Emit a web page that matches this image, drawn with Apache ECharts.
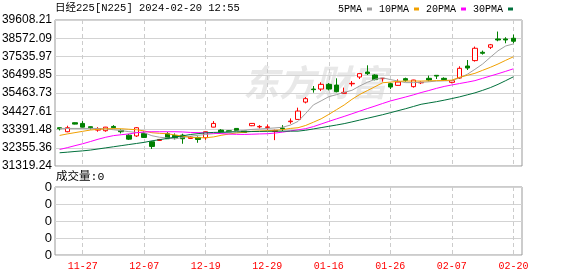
<!DOCTYPE html>
<html><head><meta charset="utf-8">
<script src="https://cdn.jsdelivr.net/npm/echarts@6/dist/echarts.min.js"></script>
<style>html,body{margin:0;padding:0;background:#fff}#c{width:578px;height:276px}</style>
</head><body><div id="c"></div>
<script>
const dates=['11-21','11-22','11-24','11-27','11-28','11-29','11-30','12-01','12-04','12-05','12-06','12-07','12-08','12-11','12-12','12-13','12-14','12-15','12-18','12-19','12-20','12-21','12-22','12-25','12-26','12-27','12-28','12-29','01-04','01-05','01-09','01-10','01-11','01-12','01-15','01-16','01-17','01-18','01-19','01-22','01-23','01-24','01-25','01-26','01-29','01-30','01-31','02-01','02-02','02-05','02-06','02-07','02-08','02-09','02-13','02-14','02-15','02-16','02-19','02-20'];
const open=[33492,33265,33777,33737,33549,33356,33322,33566,33339,33071,33026,33168,32696,32770,33151,33054,33071,32884,32941,32924,33526,33356,33322,33452,33310,33606,33538,33509,33282,33470,33834,33964,34948,35688,35688,35955,35915,35443,35984,36370,36655,36484,36279,35995,35898,36279,35824,36041,36297,36467,36297,36069,36313,36996,37303,37775,38060,38532,38532,38572];
const close=[33435,33492,33697,33526,33492,33435,33526,33492,33265,32844,33492,32941,32429,32827,32867,32924,32867,32969,32827,33265,33737,33242,33265,33339,33225,33737,33566,33538,33339,33435,33868,34437,35142,35654,35955,35688,35540,35500,36012,36564,36564,36223,36297,35802,36086,36183,36200,36069,36200,36427,36223,36166,36865,36882,38003,37719,38202,38475,38475,38401];
const low=[33339,33236,33680,33515,33396,33265,33265,33464,33168,32798,32969,32912,32286,32742,32855,32827,32582,32855,32639,32810,33515,33208,33242,33322,33196,33583,33452,33379,32787,33299,33720,33947,34875,35483,35574,35614,35500,35426,35841,36257,36484,36183,36109,35688,35881,36109,35768,35972,36126,36257,36166,36012,36257,36769,37246,37645,37963,38401,38287,38287];
const high=[33509,33606,33794,33868,33566,33526,33538,33640,33396,33140,33526,33282,32742,32855,33242,33168,33151,33026,32997,33282,33868,33413,33339,33470,33339,33754,33640,33680,33379,33640,34021,34630,35233,35859,36069,36029,36297,35768,36143,36581,37036,36524,36308,36052,36240,36336,36211,36126,36450,36467,36353,36200,36979,37337,38100,37872,38248,38953,38629,38782];
const ma5=[33452,33452,33452,33452,33452,33452,33424,33379,33327,33270,33225,33208,33037,32952,32912,32855,32946,33009,33060,33111,33151,33196,33253,33299,33339,33396,33418,33452,33481,33521,33640,33851,34306,34789,35017,35256,35369,35500,35614,35859,36069,36240,36325,36228,36143,36052,36052,36069,36098,36143,36155,36166,36325,36524,36808,37110,37491,37861,38134,38248];
const ma10=[33054,33140,33214,33287,33361,33401,33430,33441,33435,33407,33379,33310,33208,33174,33151,33083,33014,32941,32924,32924,32969,33060,33134,33196,33236,33287,33305,33327,33344,33384,33452,33492,33623,33805,33998,34249,34516,34783,35102,35375,35597,35819,36046,36080,36126,36143,36143,36143,36155,36166,36172,36194,36353,36467,36581,36752,36922,37110,37320,37519];
const ma20=[32258,32360,32474,32582,32707,32838,32952,33043,33094,33140,33208,33253,33265,33265,33265,33265,33253,33225,33214,33202,33180,33157,33134,33117,33111,33123,33140,33151,33191,33242,33310,33373,33441,33555,33703,33851,33993,34135,34283,34431,34579,34721,34869,35011,35125,35239,35358,35489,35603,35728,35836,35921,36001,36080,36166,36297,36427,36558,36695,36837];
const ma30=[32070,32104,32144,32178,32224,32286,32349,32412,32474,32537,32599,32662,32747,32815,32884,32958,33032,33106,33157,33202,33225,33236,33248,33259,33265,33276,33282,33287,33293,33299,33299,33299,33350,33424,33498,33572,33646,33725,33822,33925,34027,34129,34232,34345,34459,34573,34698,34823,34897,34971,35056,35148,35244,35358,35472,35614,35768,35955,36166,36382];
const yTickLabels=['31319.24','32355.36','33391.48','34427.61','35463.73','36499.85','37535.97','38572.09','39608.21'];
const volTickLabels=['0','0','0','0','0'];
const yMin=31319.24, yMax=39608.21;

const chart=echarts.init(document.getElementById('c'),null,{renderer:'canvas'});
const showIdx=(i)=>(i-3)%8===0;
const mono='"Liberation Mono","Noto Sans CJK SC",monospace';
const dashed={show:true,interval:showIdx,lineStyle:{color:'#cccccc',type:[4,3],width:1}};
function maSeries(name,data,color){
  return {type:'line',name:name,xAxisIndex:1,yAxisIndex:1,data:data,showSymbol:false,symbol:'none',
    lineStyle:{color:color,width:1},itemStyle:{color:color},z:3,silent:true};
}
const option={
  animation:false,
  backgroundColor:'#ffffff',
  textStyle:{fontFamily:'Liberation Sans'},
  title:[
    {text:'日经225[N225] 2024-02-20 12:55',left:55,top:3,padding:0,
     textStyle:{fontSize:10.5,fontWeight:'normal',color:'#000',fontFamily:mono}},
    {text:'成交量:0',left:56,top:171,padding:0,
     textStyle:{fontSize:11.5,fontWeight:'normal',color:'#000',fontFamily:mono}}
  ],
  legend:{left:338,top:4,padding:0,align:'right',itemWidth:5,itemHeight:3,itemGap:7,icon:'rect',
    selectedMode:false,data:['5PMA','10PMA','20PMA','30PMA'],
    textStyle:{fontSize:10,fontFamily:mono,color:'#000',padding:0}},
  grid:[
    {left:55,top:20,width:467,height:146,show:true,borderColor:'#999',borderWidth:1,backgroundColor:'transparent',outerBoundsMode:'none',containLabel:false},
    {left:59.6,top:20,width:453.8,height:146,outerBoundsMode:'none',containLabel:false},
    {left:55,top:187,width:467,height:68,show:true,borderColor:'#999',borderWidth:1,backgroundColor:'transparent',outerBoundsMode:'none',containLabel:false},
    {left:59.6,top:187,width:453.8,height:68,outerBoundsMode:'none',containLabel:false}
  ],
  xAxis:[
    {gridIndex:0,type:'value',show:false,min:0,max:1},
    {gridIndex:1,type:'category',data:dates,boundaryGap:false,axisLine:{show:false},axisTick:{show:false},axisLabel:{show:false},splitLine:dashed},
    {gridIndex:2,type:'value',show:false,min:0,max:1},
    {gridIndex:3,type:'category',data:dates,boundaryGap:false,axisLine:{show:false},axisTick:{show:false},
     axisLabel:{interval:showIdx,color:'#ff0000',fontSize:10,fontFamily:mono,margin:6},splitLine:dashed}
  ],
  yAxis:[
    {gridIndex:0,type:'value',min:0,max:8,interval:1,axisLine:{show:false},axisTick:{show:false},
     axisLabel:{formatter:(v)=>yTickLabels[v],color:'#000',fontSize:12,fontFamily:'Liberation Sans',margin:3},
     splitLine:{show:true,lineStyle:{color:'#d3d3d3',width:1}}},
    {gridIndex:1,type:'value',min:yMin,max:yMax,show:false,splitLine:{show:false}},
    {gridIndex:2,type:'value',min:0,max:4,interval:1,axisLine:{show:false},axisTick:{show:false},
     axisLabel:{formatter:(v)=>volTickLabels[v],color:'#000',fontSize:13,fontFamily:'Liberation Sans',margin:3},
     splitLine:{show:true,lineStyle:{color:'#d3d3d3',width:1}}},
    {gridIndex:3,type:'value',min:0,max:1,show:false,splitLine:{show:false}}
  ],
  graphic:[
    {type:'text',left:243,top:64,z:0,silent:true,
     style:{text:'东方财富',font:'italic bold 36px "Noto Sans CJK SC"',fill:'#e8e8e8'}}
  ],
  series:[
    {type:'candlestick',name:'K',xAxisIndex:1,yAxisIndex:1,barWidth:5,clip:false,z:2,silent:true,
     data:dates.map((d,i)=>[open[i],close[i],low[i],high[i]]),
     itemStyle:{color:'#ffffff',color0:'#008000',borderColor:'#ff0000',borderColor0:'#008000',borderWidth:1}},
    maSeries('5PMA',ma5,'#a0a0a0'),
    maSeries('10PMA',ma10,'#f0a000'),
    maSeries('20PMA',ma20,'#ff00ff'),
    maSeries('30PMA',ma30,'#00703c')
  ]
};
chart.setOption(option);
</script></body></html>
